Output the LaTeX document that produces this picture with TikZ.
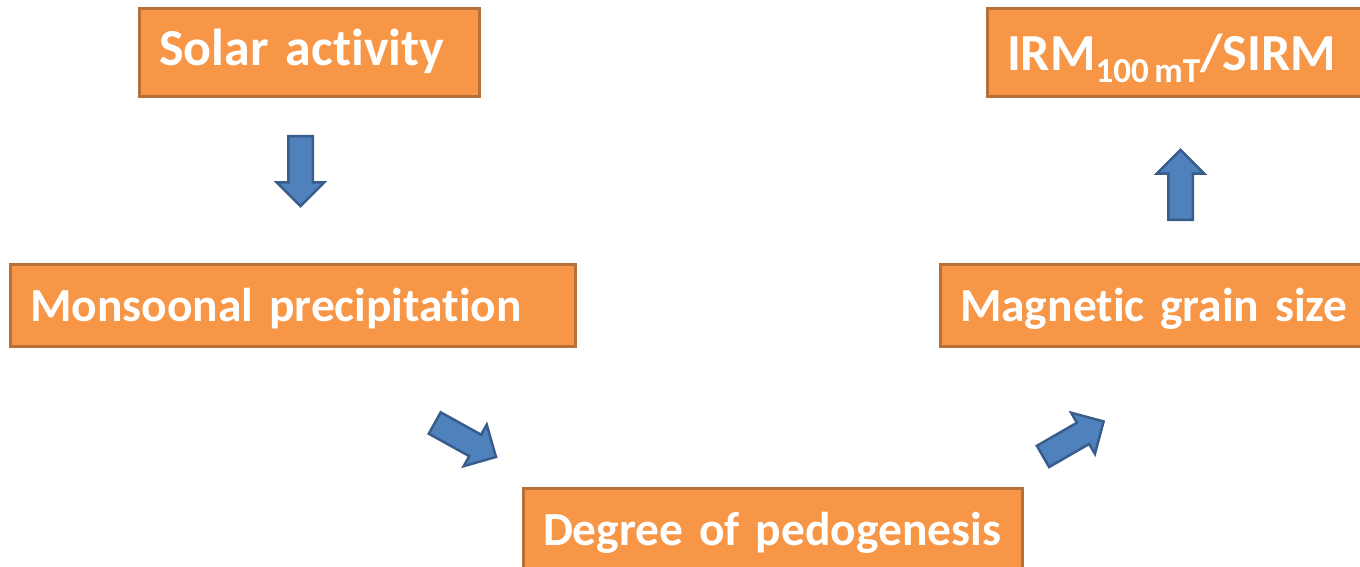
\documentclass[tikz,border=0pt]{standalone}
\usepackage{fontspec}
\setmainfont{Carlito}[Ligatures=NoCommon]
\usepackage{xcolor}
\definecolor{naranja}{RGB}{247,150,70}
\definecolor{naranjaOscuro}{RGB}{183,112,56}
\definecolor{azulFlecha}{RGB}{79,129,189}
\definecolor{azulOscuro}{RGB}{56,93,138}
\usetikzlibrary{shapes,shapes.arrows,calc,positioning}
\tikzstyle{caja}  =[rectangle, draw=naranjaOscuro, fill=naranja,
                    line width=3pt, inner xsep=20pt, inner ysep=0pt,
                    align=left, text=white, text height=38pt, text depth=12pt,
                    font=\fontsize{47.5}{55}\selectfont\bfseries]
\tikzstyle{grande}=[font=\fontsize{52}{60}\selectfont\bfseries]
\tikzstyle{flecha}=[single arrow, draw=azulOscuro, fill=azulFlecha,
                    line width=2.5pt, inner xsep=0pt, inner ysep=11pt,
                    single arrow head extend=11.5pt, minimum width=45pt,
                    minimum height=70pt]

\begin{document}
\begin{tikzpicture}[x=1pt,y=-1pt]
    \clip (0,0) rectangle (1360,566);

    \node[caja, grande, minimum width=340pt, minimum height=88pt, text width=300pt]
        (solar) at (309,52) {Solar activity};
    \node[caja, minimum width=565pt, minimum height=82pt, text width=525pt,
          text depth=6pt]
        (monzon) at (292.5,305) {Monsoonal precipitation};
    \node[caja, minimum width=499pt, minimum height=88pt, text width=459pt]
        (pedo) at (772.5,532) {Degree of pedogenesis};
    \node[caja, minimum width=460pt, minimum height=82pt, text width=420pt,
          text depth=6pt]
        (grano) at (1170,305) {Magnetic grain size};
    \node[caja, grande, minimum width=413pt, minimum height=88pt, text width=373pt,
          text depth=2pt]
        (irm) at (1193.5,52)
        {IRM\raisebox{-12pt}{\fontsize{35}{36}\selectfont 100\hspace{0.16em}mT}/SIRM};

    \foreach \n/\x/\y/\a in
        {f1/300.5/165/-90, f2/460/437/-29, f3/1068/442/30, f4/1180.5/191/90}
        \node[flecha, rotate=\a] (\n) at (\x,\y) {};

\end{tikzpicture}
\end{document}
